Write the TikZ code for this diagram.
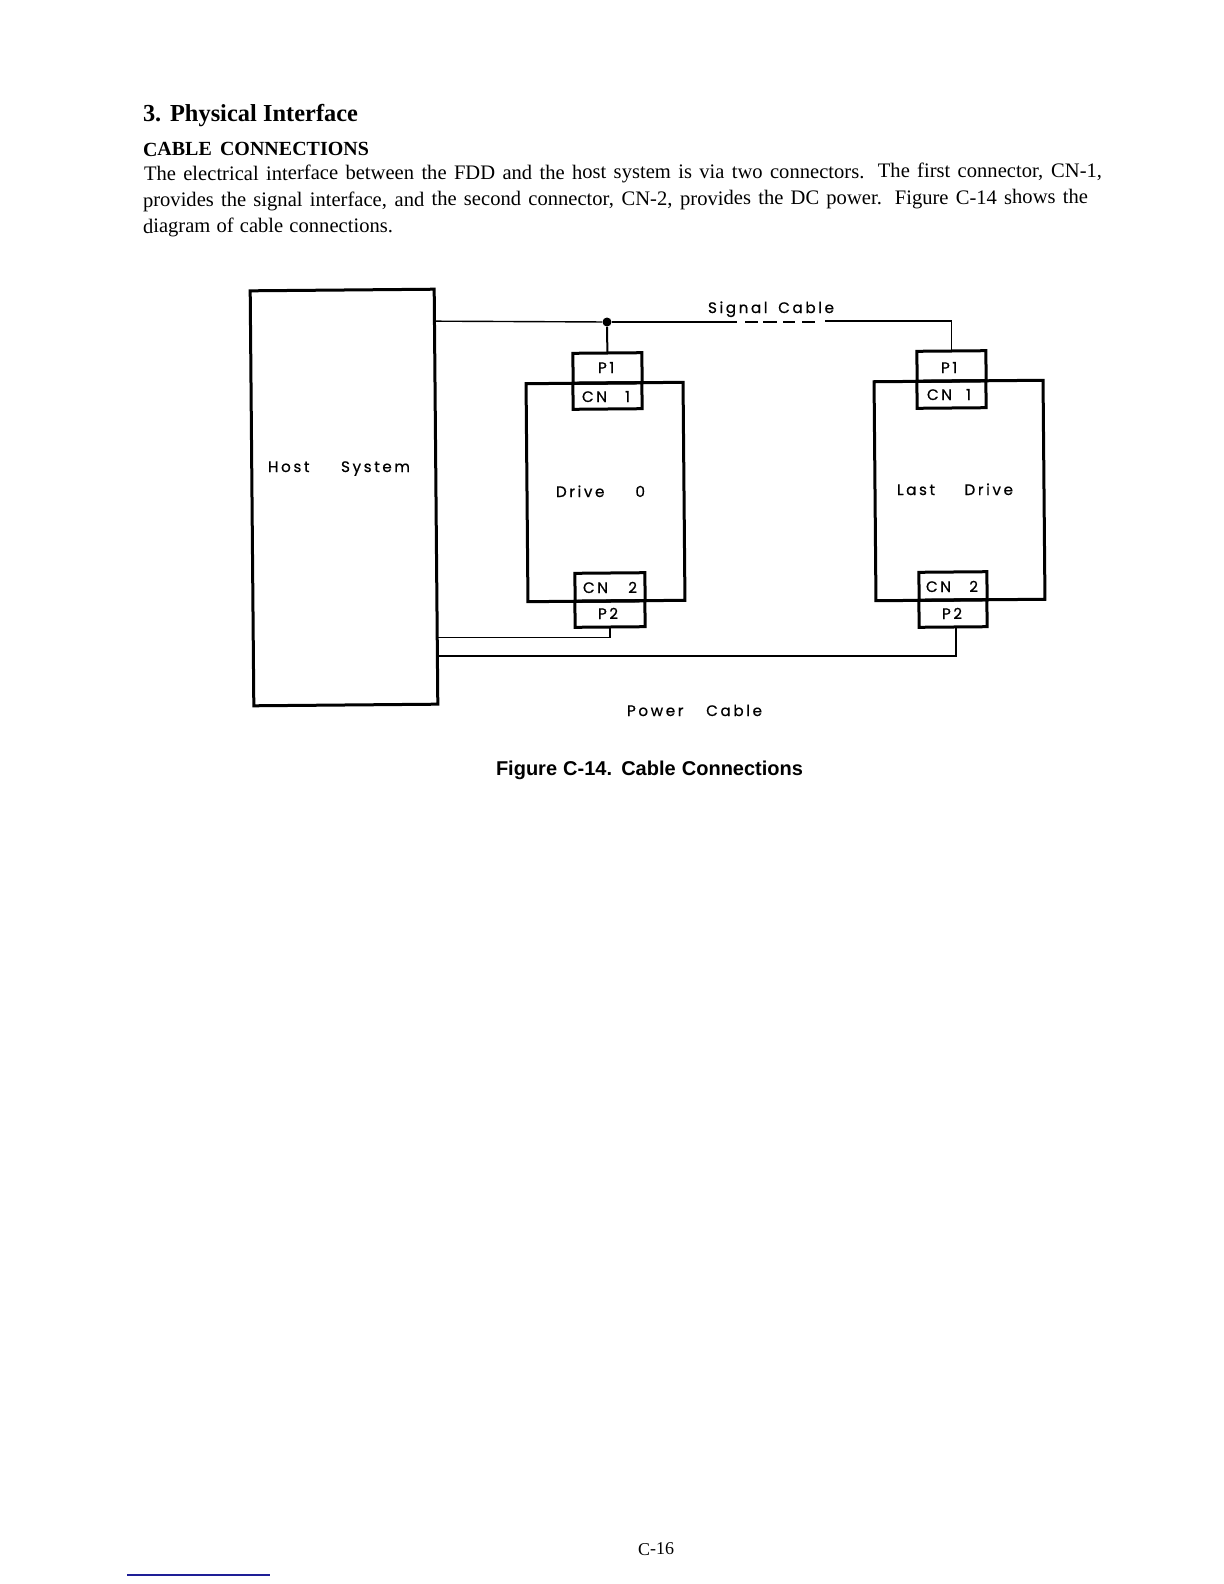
\documentclass[tikz,border=0pt]{standalone}
\usepackage{fontspec}
\usetikzlibrary{calc}
\setmainfont{Liberation Serif}
\newfontfamily\capfont{Liberation Sans}
\newfontfamily\drawfont[LetterSpace=17,FakeBold=0.6]{Poppins}
\newlength{\px}
\setlength{\px}{0.5pt}
\newcommand{\bodyline}[4]{\node[txt] (#1) at (#2) {\makebox[#3\px][s]{#4}};}
\newcommand{\lbl}[5]{\node[lab] (#1) at (#2,#3) {\makebox[#4\px][s]{#5}};}
\tikzset{
  x=0.5pt, y=-0.5pt,
  txt/.style={anchor=base west, inner sep=0pt, outer sep=0pt, rotate=0.2, font=\fontsize{10.3}{12}\selectfont},
  lab/.style={anchor=base west, inner sep=0pt, outer sep=0pt, font=\drawfont\fontsize{7.6}{9}\selectfont},
  boxthick/.style={draw=black, line width=1.5pt, rectangle, inner sep=0pt, outer sep=0pt, rotate=0.5, line join=miter},
  wire/.style={draw=black, line width=0.7pt},
  dot/.style={circle, fill=black, inner sep=0pt, minimum size=4.5pt},
}
\begin{document}
\begin{tikzpicture}
\useasboundingbox (0,0) rectangle (1224,1584);
% page text
\node[txt, font=\bfseries\fontsize{12.2}{14}\selectfont] (head) at (143,122) {\makebox[215\px][s]{3. Physical Interface}};
\node[txt, font=\bfseries\fontsize{10}{12}\selectfont] (sub) at (143,156) {\makebox[226\px][s]{CABLE CONNECTIONS}};
\bodyline{l1}{144,180.5}{958}{The electrical interface between the FDD and the host system is via two connectors. The first connector, CN-1,}
\bodyline{l2}{143,207}{945}{provides the signal interface, and the second connector, CN-2, provides the DC power. Figure C-14 shows the}
\bodyline{l3}{143,233}{250}{diagram of cable connections.}
% boxes
\node[boxthick, minimum width=184*\px, minimum height=415*\px] (host) at (344,497.5) {};
\node[boxthick, minimum width=157*\px, minimum height=218*\px] (drvA) at (605.5,492) {};
\node[boxthick, minimum width=169*\px, minimum height=219*\px] (drvB) at (959.5,490.5) {};
\node[boxthick, minimum width=69*\px, minimum height=30*\px] (pA1) at (607.5,368) {};
\node[boxthick, minimum width=69*\px, minimum height=26*\px] (cA1) at (607.5,396) {};
\node[boxthick, minimum width=70*\px, minimum height=28*\px] (cA2) at (610,587) {};
\node[boxthick, minimum width=70*\px, minimum height=26*\px] (pA2) at (610,614) {};
\node[boxthick, minimum width=69*\px, minimum height=30*\px] (pB1) at (951.5,366) {};
\node[boxthick, minimum width=69*\px, minimum height=27*\px] (cB1) at (951.5,394.5) {};
\node[boxthick, minimum width=68*\px, minimum height=28*\px] (cB2) at (953,586) {};
\node[boxthick, minimum width=68*\px, minimum height=27*\px] (pB2) at (953,613.5) {};
% connector ends
\coordinate (hs) at ($(host.north east)!0.077!(host.south east)$);
\coordinate (hp) at ($(host.north east)!0.84!(host.south east)$);
\coordinate (hq) at ($(host.north east)!0.884!(host.south east)$);
\node[dot] (jn) at (607,322) {};
\coordinate (d0) at (737,322);
\coordinate (d1) at (745,322);
\coordinate (d2) at (758,322);
\coordinate (d3) at (763,322);
\coordinate (d4) at (777,322);
\coordinate (d5) at (783,322);
\coordinate (d6) at (795,322);
\coordinate (d7) at (802,322);
\coordinate (d8) at (815,322);
\coordinate (d9) at (825,321);
\coordinate (pwrB) at ([xshift=3*\px]pB2.south);
% signal cable
\draw[wire] (hs) -- (jn);
\draw[wire, line width=1pt] (jn) -- (pA1.north);
\draw[wire] (jn) -- (d0);
\draw[wire] (d1) -- (d2);
\draw[wire] (d3) -- (d4);
\draw[wire] (d5) -- (d6);
\draw[wire] (d7) -- (d8);
\draw[wire] (d9) -| (pB1.north);
% power cable
\draw[wire] (pA2.south) |- (hp);
\draw[wire] (pwrB) |- (hq);
% labels
\lbl{tHost}{268}{472}{142}{Host System}{}
\lbl{tDrvA}{556}{497}{89}{Drive 0}{}
\lbl{tDrvB}{897}{495}{116}{Last Drive}{}
\lbl{tSig}{708}{313}{126}{Signal Cable}{}
\lbl{tPow}{627}{716}{135}{Power Cable}{}
\lbl{tpA1}{598}{373}{20}{P\,1}{}
\lbl{tcA1}{582}{402}{48}{CN 1}{}
\lbl{tcA2}{583}{593}{54}{CN 2}{}
\lbl{tpA2}{598}{619}{25}{P\,2}{}
\lbl{tpB1}{941}{373}{21}{P\,1}{}
\lbl{tcB1}{927}{400}{44}{CN 1}{}
\lbl{tcB2}{926}{592}{52}{CN 2}{}
\lbl{tpB2}{942}{619}{24}{P\,2}{}
% caption & folio
\node[txt, rotate=-0.2, font=\capfont\bfseries\fontsize{10}{12}\selectfont] (cap) at (496,775) {\makebox[307\px][s]{Figure C-14. Cable Connections}};
\node[txt, font=\fontsize{9}{11}\selectfont] (folio) at (638,1555) {C-16};
\coordinate (ruleL) at (127,1575);
\coordinate (ruleR) at (270,1575);
\draw[draw={rgb,255:red,30;green,30;blue,150}, line width=0.6pt] (ruleL) -- (ruleR);
\end{tikzpicture}
\end{document}
